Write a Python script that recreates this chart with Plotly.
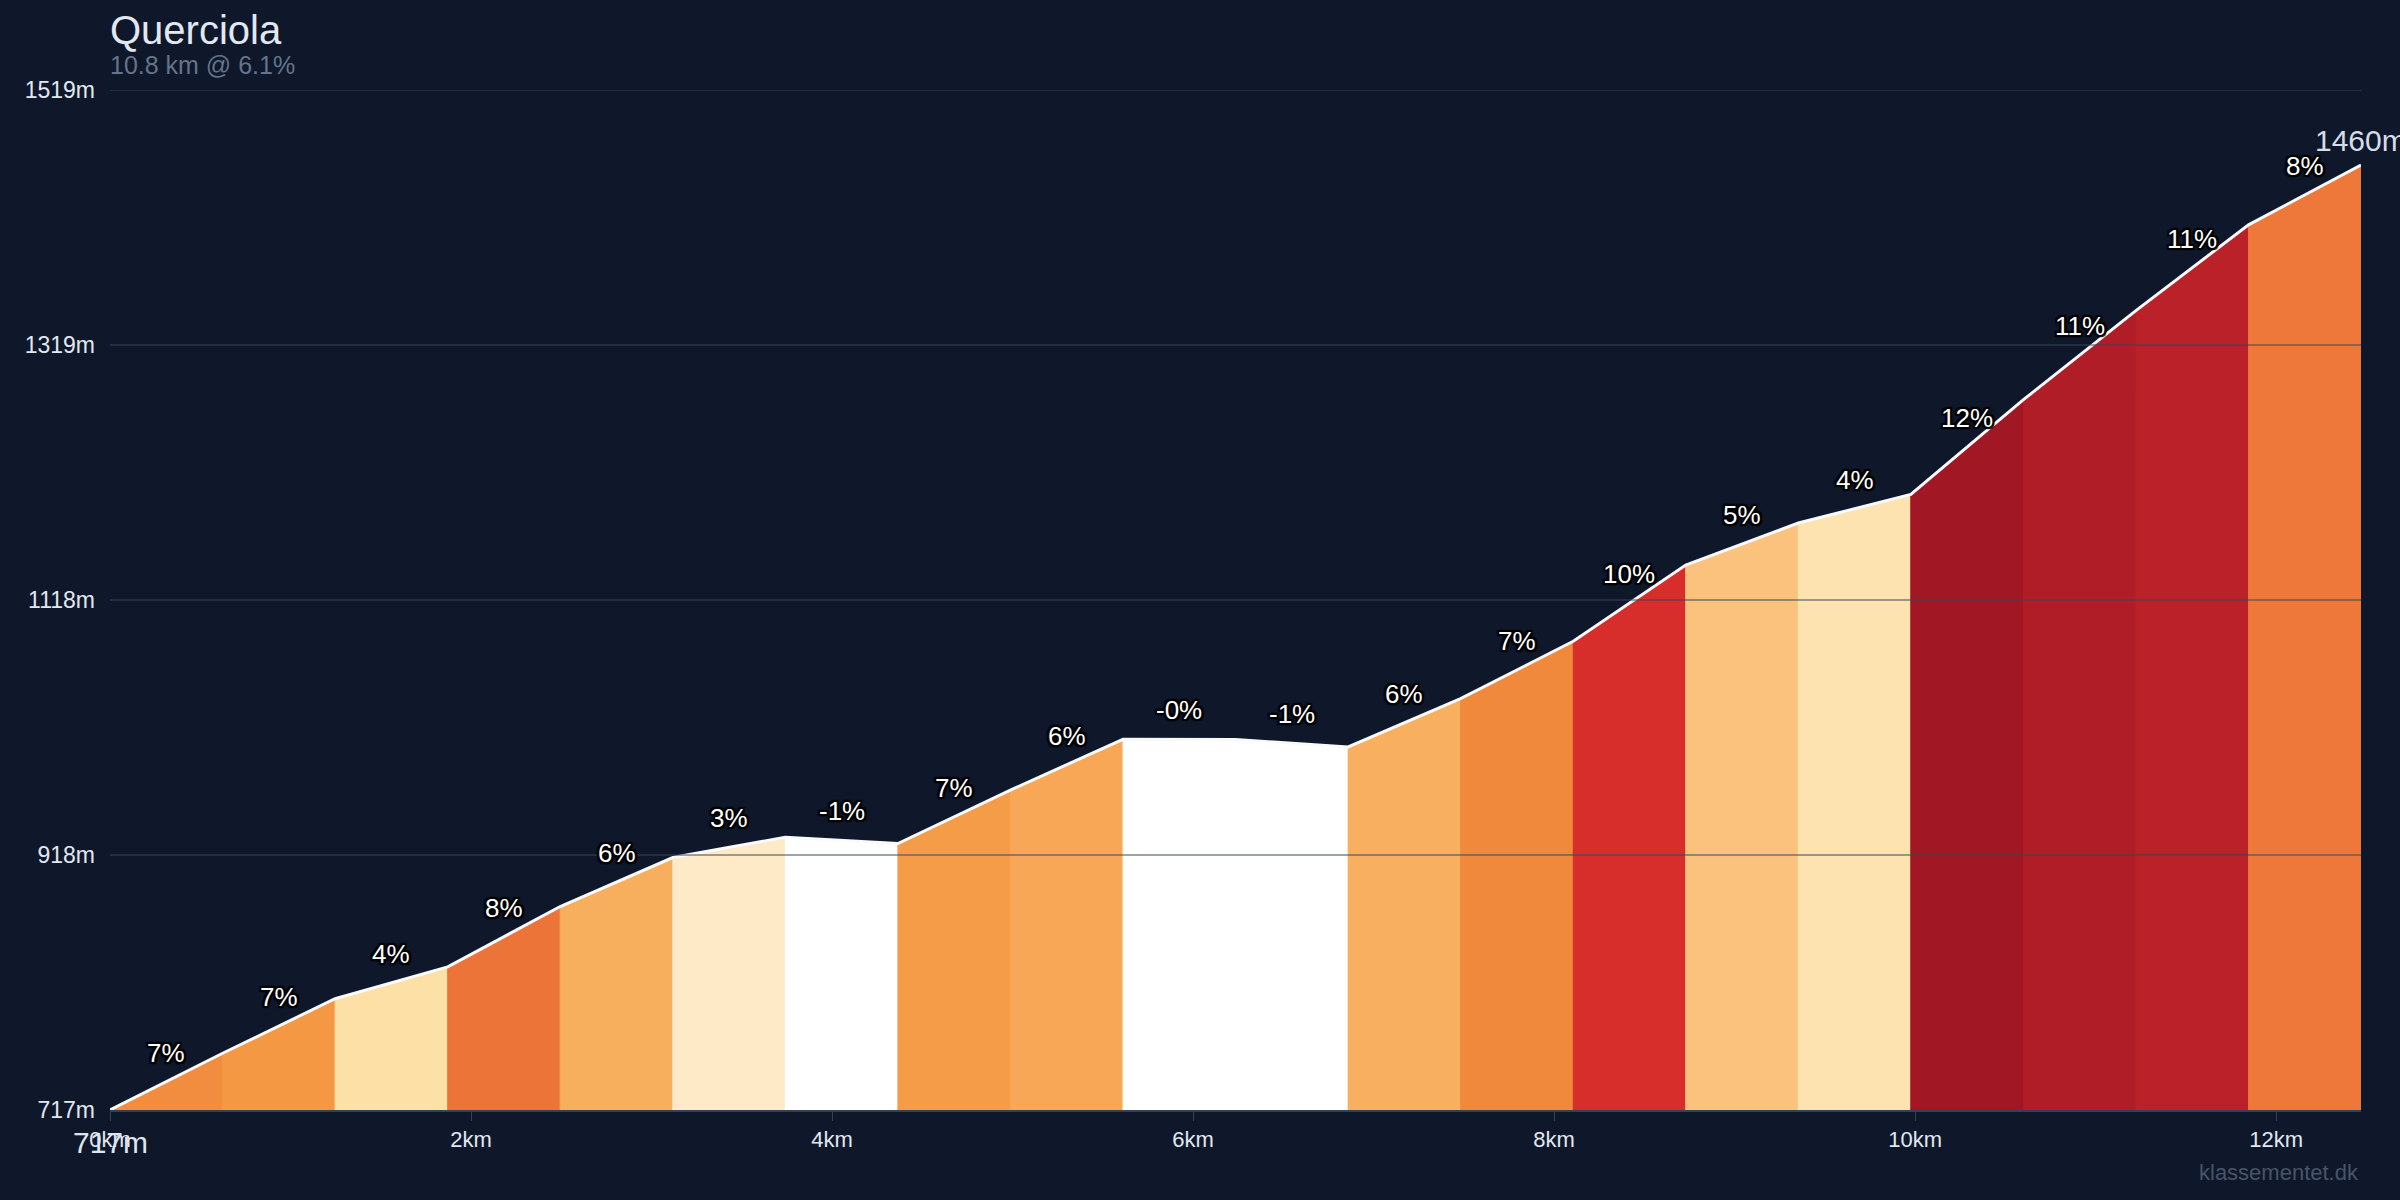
import plotly.graph_objects as go
from plotly.colors import sample_colorscale

climb_name = "Querciola"
climb_summary = "10.8 km @ 6.1%"
source_label = "klassementet.dk"

# profile points (distance along the climb, elevation)
distance_km = [0.0, 0.624, 1.247, 1.871, 2.494, 3.118, 3.741, 4.365, 4.988, 5.612, 6.235,
               6.859, 7.482, 8.106, 8.729, 9.353, 9.976, 10.600, 11.223, 11.847, 12.470]
elevation_m = [717, 761.6, 804.5, 829.5, 877, 915.5, 931.5, 926.5, 968.5, 1008.5, 1008.3,
               1002.5, 1040.5, 1085.5, 1145.5, 1178.5, 1201, 1275.5, 1345.5, 1413, 1460]

y_ticks = [717, 917.5, 1118, 1318.5, 1519]
x_ticks = [0, 2, 4, 6, 8, 10, 12]

BG = "#0f172a"
GRID = "#3b4659"
FONT = "Liberation Sans, Arial, sans-serif"

# gradient -> colour (gradient in %, 0..15)
grad_max = 15
grad_scale = [(0, "#ffffff"), (2.5, "#feebc8"), (4, "#fde0a6"), (5.3, "#fbc27e"),
              (6.2, "#f8ae5c"), (7, "#f49440"), (7.6, "#ec7538"), (9.6, "#d92e2b"),
              (11, "#b51f28"), (12, "#a01724"), (15, "#7f0f1e")]
colorscale = [[g / grad_max, c] for g, c in grad_scale]

gradients = []
for i in range(len(distance_km) - 1):
    rise = elevation_m[i + 1] - elevation_m[i]
    run = (distance_km[i + 1] - distance_km[i]) * 1000
    gradients.append(rise / run * 100)

seg_colors = sample_colorscale(
    colorscale, [min(max(g, 0), grad_max) / grad_max for g in gradients]
)

fig = go.Figure()

base = y_ticks[0]
for i, g in enumerate(gradients):
    x0, x1 = distance_km[i], distance_km[i + 1]
    fig.add_trace(go.Scatter(
        x=[x0, x0, x1, x1, x0],
        y=[base, elevation_m[i], elevation_m[i + 1], base, base],
        mode="lines",
        line=dict(width=1, color=seg_colors[i]),
        fill="toself",
        fillcolor=seg_colors[i],
        hoverinfo="skip",
        showlegend=False,
    ))

fig.add_trace(go.Scatter(
    x=distance_km,
    y=elevation_m,
    mode="lines",
    line=dict(color="#f8fafc", width=3),
    showlegend=False,
))

outline = ("-2px -2px 1px #000, 2px -2px 1px #000, -2px 2px 1px #000, 2px 2px 1px #000, "
           "0 2px 1px #000, 0 -2px 1px #000, 2px 0 1px #000, -2px 0 1px #000")

annotations = []
for i, g in enumerate(gradients):
    annotations.append(dict(
        x=(distance_km[i] + distance_km[i + 1]) / 2,
        y=(elevation_m[i] + elevation_m[i + 1]) / 2,
        text=f"{g:.0f}%",
        showarrow=False,
        yshift=29,
        font=dict(family=FONT, size=26, color="#ffffff", shadow=outline),
    ))

# start / finish elevations
annotations.append(dict(
    x=distance_km[0], y=elevation_m[0], text=f"{elevation_m[0]:.0f}m",
    showarrow=False, yshift=-32, font=dict(family=FONT, size=30, color="#dfe5ee"),
))
annotations.append(dict(
    x=distance_km[-1], y=elevation_m[-1], text=f"{elevation_m[-1]:.0f}m",
    showarrow=False, yshift=25, font=dict(family=FONT, size=30, color="#d5dde8"),
))

# title, subtitle, source
annotations.append(dict(
    xref="paper", yref="paper", x=0, y=1, xanchor="left", yanchor="middle",
    text=climb_name, showarrow=False, yshift=60, xshift=-2,
    font=dict(family=FONT, size=40, color="#e2e8f0"),
))
annotations.append(dict(
    xref="paper", yref="paper", x=0, y=1, xanchor="left", yanchor="middle",
    text=climb_summary, showarrow=False, yshift=25, xshift=-2,
    font=dict(family=FONT, size=25, color="#64748b"),
))
annotations.append(dict(
    xref="paper", yref="paper", x=1, y=0, xanchor="right", yanchor="middle",
    text=source_label, showarrow=False, yshift=-62,
    font=dict(family=FONT, size=22, color="#475569"),
))

shapes = []
for v in y_ticks[1:]:
    shapes.append(dict(
        type="line", xref="paper", x0=0, x1=1, yref="y", y0=v, y1=v,
        line=dict(color=GRID, width=1.2), layer="above",
    ))

fig.update_xaxes(
    range=[distance_km[0], distance_km[-1]],
    tickvals=x_ticks,
    ticktext=[f"{v}km" for v in x_ticks],
    showgrid=False,
    zeroline=False,
    showline=True,
    linecolor="#334155",
    linewidth=2,
    ticks="outside",
    ticklen=9,
    tickcolor="#334155",
    tickfont=dict(family=FONT, size=22, color="#e2e8f0"),
)

fig.update_yaxes(
    range=[y_ticks[0], y_ticks[-1]],
    tickvals=y_ticks,
    ticktext=[f"{int(v + 0.5)}m" for v in y_ticks],
    showgrid=False,
    zeroline=False,
    showline=False,
    ticks="",
    ticklabelstandoff=14,
    tickfont=dict(family=FONT, size=23, color="#e2e8f0"),
)

fig.update_layout(
    width=2400,
    height=1200,
    plot_bgcolor=BG,
    paper_bgcolor=BG,
    margin=dict(l=110, r=39, t=90, b=90),
    showlegend=False,
    annotations=annotations,
    shapes=shapes,
)

# page margin off so the 2400x1200 figure fills the window exactly
page_fix = (
    "document.body.style.margin='0';"
    f"document.body.style.background='{BG}';"
    "document.body.style.overflow='hidden';"
)
fig.write_html("out.html", config={"displayModeBar": False}, post_script=page_fix)
